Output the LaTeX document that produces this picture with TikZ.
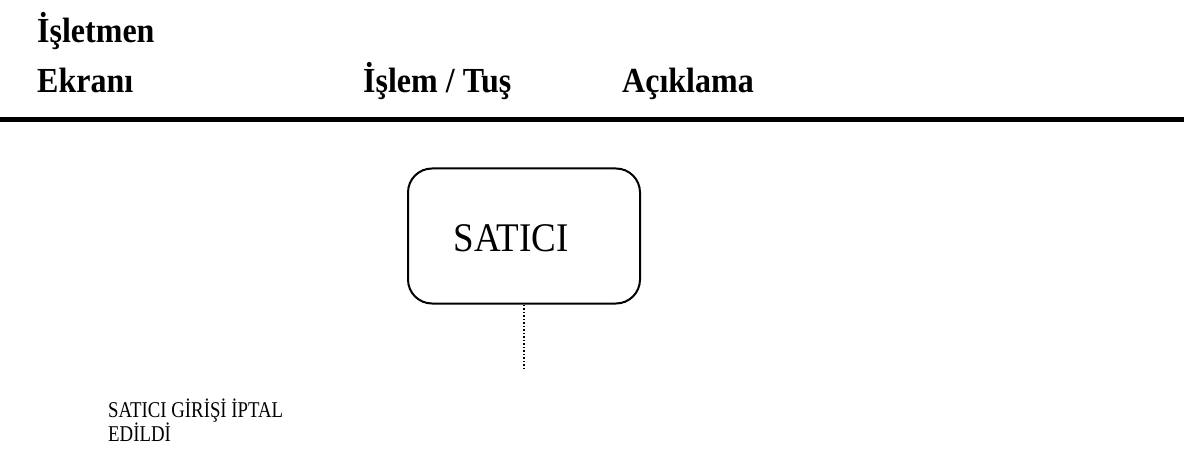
\documentclass[tikz,border=0pt]{standalone}
\usepackage{fontspec}
\usepackage{graphicx}
\setmainfont{Liberation Serif}
\newcommand\vstretch[2]{\scalebox{1}[#1]{#2}}
\begin{document}
\begin{tikzpicture}[x=1pt,y=-1pt,
  head/.style={font=\fontsize{32}{40}\selectfont\bfseries, anchor=base west, inner sep=0pt},
  procbox/.style={draw, line width=2pt, rounded corners=24pt, minimum width=232pt, minimum height=135pt},
  boxtext/.style={font=\fontsize{37}{40}\selectfont, anchor=base, inner sep=0pt},
  note/.style={font=\fontsize{18.8}{24}\selectfont, anchor=base west, inner sep=0pt}]
\useasboundingbox (0,0) rectangle (1184,457);
\node[head] (h1a) at (37,43) {\vstretch{1.1}{İşletmen}};
\node[head] (h1b) at (37,93) {\vstretch{1.1}{Ekranı}};
\node[head] (h2) at (363,93) {\vstretch{1.1}{İşlem / Tuş}};
\node[head] (h3) at (622,93) {\vstretch{1.1}{Açıklama}};
\coordinate (rl) at (0,120);
\coordinate (rr) at (1184,120);
\draw[line width=5pt] (rl) -- (rr);
\node[procbox] (sat) at (524,236) {};
\node[boxtext] (satt) at (511,252) {\vstretch{1.1}{SATICI}};
\coordinate (dend) at (524,370);
\draw[line width=1.5pt, dotted] (sat.south) -- (dend);
\node[note] (n1) at (108,417) {\vstretch{1.2}{SATICI GİRİŞİ İPTAL}};
\node[note] (n2) at (108,441) {\vstretch{1.2}{EDİLDİ}};
\end{tikzpicture}
\end{document}
